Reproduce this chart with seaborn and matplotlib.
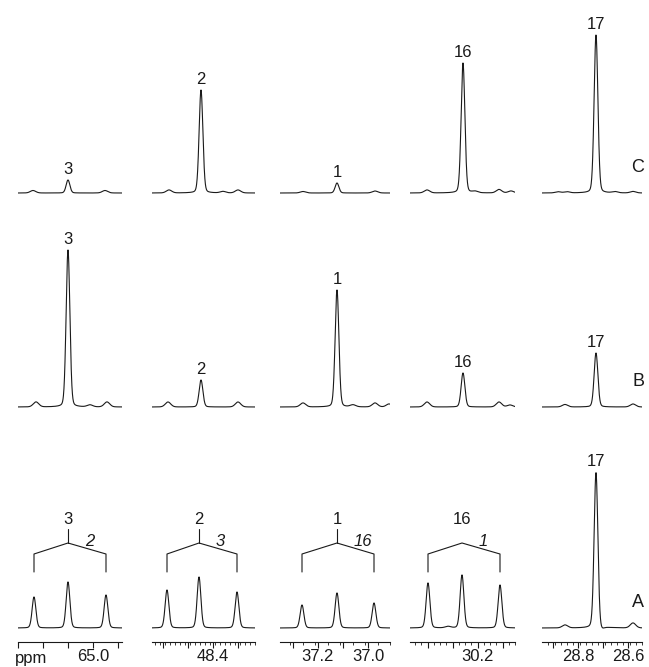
import numpy as np
import pandas as pd
import matplotlib
matplotlib.use("Agg")
import matplotlib.pyplot as plt
import seaborn as sns

# ---- data ------------------------------------------------------------------
carbons = ["3", "2", "1", "16", "17"]          # observed carbon per column
partners = ["2", "3", "16", "1", None]         # 13C coupling partner (trace A)
row_names = ["C", "B", "A"]

ppm_left = [65.300, 48.644, 37.352, 30.472, 28.944]
ppm_right = [64.884, 48.232, 36.912, 30.052, 28.544]
major_ticks = [[65.3, 65.2, 65.1, 65.0, 64.9],
               [48.6, 48.5, 48.4, 48.3],
               [37.3, 37.2, 37.1, 37.0],
               [30.4, 30.3, 30.2, 30.1],
               [28.9, 28.8, 28.7, 28.6]]
tick_labels = [["", "", "", "65.0", ""],
               ["", "", "48.4", ""],
               ["", "37.2", "", "37.0"],
               ["", "", "30.2", ""],
               ["", "28.8", "", "28.6"]]
minor_step = [None, 0.02, 0.05, 0.025, 0.025]

# peak shifts (ppm) and heights per trace, one inner list per column
c_shifts = [[65.240, 65.100, 64.952],
            [48.576, 48.448, 48.360, 48.300],
            [37.260, 37.124, 36.972],
            [30.404, 30.260, 30.212, 30.116, 30.068],
            [28.880, 28.844, 28.728, 28.652, 28.580]]
c_heights = [[2.5, 13, 2.5],
             [3, 103, 1.5, 3],
             [1.5, 10, 2],
             [3, 130, 1.5, 3.5, 2],
             [1.2, 1.2, 158, 1.2, 1.5]]

b_shifts = [[65.228, 65.100, 65.012, 64.944],
            [48.580, 48.448, 48.300],
            [37.260, 37.124, 37.060, 36.972, 36.916],
            [30.404, 30.260, 30.116, 30.072],
            [28.852, 28.728, 28.580]]
b_heights = [[5, 157, 2, 5],
             [5, 27, 5],
             [4, 117, 2, 4, 3],
             [5, 34, 5, 2],
             [2.5, 54, 3]]

a_shifts = [[65.236, 65.100, 64.948],
            [48.584, 48.456, 48.304],
            [37.264, 37.124, 36.976],
            [30.400, 30.320, 30.264, 30.112],
            [28.852, 28.728, 28.708, 28.580]]
a_heights = [[31, 46, 33],
             [38, 51, 36],
             [23, 35, 25],
             [45, 1.5, 53, 43],
             [3, 156, -3, 5]]

shifts = [c_shifts, b_shifts, a_shifts]
heights = [c_heights, b_heights, a_heights]

# ---- layout (pixels) -------------------------------------------------------
W, H = 649, 667
col_x0 = [18, 152, 280, 410, 542]
col_x1 = [122, 255, 390, 515, 642]
baseline_y = [193, 407, 628]
ppm_per_px = 0.004
ink = "#1a1a1a"

sns.set_style("white")
plt.rcParams["font.family"] = ["Liberation Sans", "DejaVu Sans"]

fig = plt.figure(figsize=(W / 100, H / 100), dpi=100)


def spectrum(ppm, pos, amp):
    y = np.zeros_like(ppm)
    for p, a in zip(pos, amp):
        w = 0.0075 if abs(a) > 8 else 0.011
        g = np.exp(-0.5 * ((ppm - p) / w) ** 2)
        lor = 1.0 / (1.0 + ((ppm - p) / (1.2 * w)) ** 2)
        y += a * (0.85 * g + 0.15 * lor)
    return y


for r in range(3):
    ybot = 14 if r == 2 else 5
    ytop = 175
    for c in range(5):
        left = col_x0[c] / W
        width = (col_x1[c] - col_x0[c]) / W
        bottom = (H - (baseline_y[r] + ybot)) / H
        ax = fig.add_axes([left, bottom, width, (ybot + ytop) / H])
        ax.patch.set_alpha(0)

        x = np.linspace(ppm_left[c], ppm_right[c], 800)
        df = pd.DataFrame({"ppm": x, "I": spectrum(x, shifts[r][c], heights[r][c])})
        sns.lineplot(data=df, x="ppm", y="I", ax=ax, color=ink, linewidth=0.8,
                     estimator=None, sort=False)

        ax.set_xlim(ppm_left[c], ppm_right[c])
        ax.set_ylim(-ybot, ytop)
        ax.set_xlabel("")
        ax.set_ylabel("")
        ax.set_yticks([])
        for s in ["top", "left", "right"]:
            ax.spines[s].set_visible(False)

        if r == 2:
            ax.spines["bottom"].set_visible(True)
            ax.spines["bottom"].set_linewidth(0.8)
            ax.spines["bottom"].set_color(ink)
            ax.set_xticks(major_ticks[c])
            ax.set_xticklabels(tick_labels[c])
            if minor_step[c]:
                ax.set_xticks(np.arange(ppm_right[c], ppm_left[c], minor_step[c]), minor=True)
            ax.tick_params(axis="x", which="major", direction="out", length=4,
                           width=0.8, pad=1, labelsize=12, colors=ink, bottom=True)
            ax.tick_params(axis="x", which="minor", direction="out", length=2,
                           width=0.6, colors=ink, bottom=True)
        else:
            ax.spines["bottom"].set_visible(False)
            ax.set_xticks([])

        hs = heights[r][c]
        k = int(np.argmax(hs))
        top_ppm = shifts[r][c][k]
        if r == 2 and partners[c] is not None:
            # coupling bracket over the satellite triplet
            sats = [shifts[r][c][0], shifts[r][c][-1]]
            mid = top_ppm
            bx = [sats[0], sats[0], mid, sats[1], sats[1]]
            by = [56, 74, 85, 74, 56]
            ax.plot(bx, by, color=ink, lw=0.8, clip_on=False)
            if c < 3:
                ax.plot([mid, mid], [85, 99], color=ink, lw=0.8, clip_on=False)
            ax.text(mid, 104, carbons[c], ha="center", va="baseline",
                    fontsize=12, color=ink)
            ax.text(mid - 17 * ppm_per_px, 82, partners[c], ha="left",
                    va="baseline", fontsize=12, style="italic", color=ink)
        else:
            ax.text(top_ppm, hs[k] + 6, carbons[c], ha="center", va="baseline",
                    fontsize=12, color=ink, clip_on=False)

# trace names
for r, name in enumerate(row_names):
    fig.text(638 / W, 1 - (baseline_y[r] - 21) / H, name, ha="center",
             va="baseline", fontsize=13, color=ink)

fig.text(15 / W, 1 - 663 / H, "ppm", ha="left", va="baseline", fontsize=12, color=ink)

fig.savefig("out.png", dpi=100)
